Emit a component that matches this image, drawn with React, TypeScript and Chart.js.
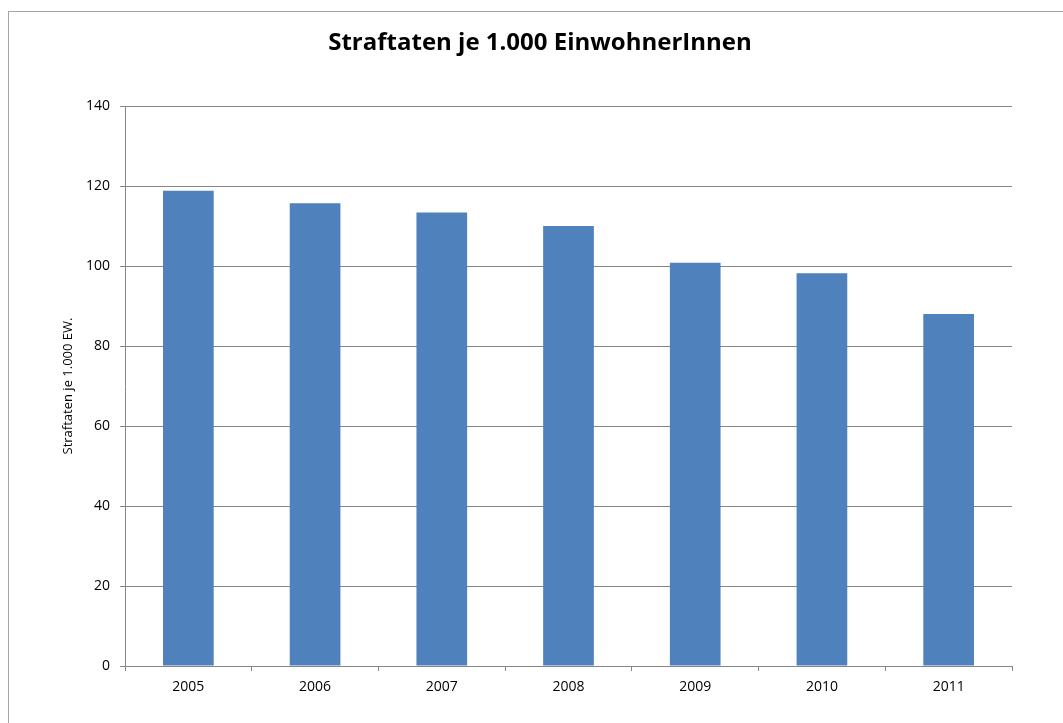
import React, { useEffect, useRef } from "react";
import { Chart, registerables } from "chart.js";

Chart.register(...registerables);

const TITLE = "Straftaten je 1.000 EinwohnerInnen";
const Y_TITLE = "Straftaten je 1.000 EW.";
const YEARS = ["2005", "2006", "2007", "2008", "2009", "2010", "2011"];
const VALUES = [118.8, 115.7, 113.4, 110.0, 100.8, 98.2, 88.0];
const Y_MIN = 0;
const Y_MAX = 140;
const Y_STEP = 20;

const FONT = "'Open Sans', 'DejaVu Sans', sans-serif";
const GRID = "#868686";

export default function App() {
  const ref = useRef<HTMLCanvasElement | null>(null);

  useEffect(() => {
    const canvas = ref.current;
    if (!canvas) return;
    const chart = new Chart(canvas, {
      type: "bar",
      data: {
        labels: YEARS,
        datasets: [
          {
            data: VALUES,
            backgroundColor: "#4f81bd",
            borderColor: "#b9cde5",
            borderWidth: 0,
            barPercentage: 0.4,
            categoryPercentage: 1,
          },
        ],
      },
      options: {
        animation: false,
        responsive: false,
        devicePixelRatio: 1,
        layout: { padding: { left: 0, right: 0, top: 0, bottom: 0 } },
        plugins: {
          legend: { display: false },
          tooltip: { enabled: false },
          title: {
            display: true,
            text: TITLE,
            color: "#000",
            font: { family: FONT, size: 24, weight: "bold", lineHeight: 1.2 },
            padding: { top: 17, bottom: 48.2 },
          },
        },
        scales: {
          x: {
            type: "category",
            grid: {
              display: true,
              drawOnChartArea: false,
              drawTicks: true,
              tickLength: 5,
              color: GRID,
              offset: true,
            },
            border: { display: true, color: GRID, width: 1 },
            ticks: {
              color: "#000",
              font: { family: FONT, size: 14 },
              padding: 8,
              maxRotation: 0,
            },
            afterFit: (s: any) => {
              s.height = 57;
            },
          },
          y: {
            type: "linear",
            position: "left",
            min: Y_MIN,
            max: Y_MAX,
            ticks: {
              stepSize: Y_STEP,
              color: "#000",
              font: { family: FONT, size: 14 },
              padding: 10,
            },
            grid: {
              color: GRID,
              tickLength: 5,
              lineWidth: 1,
            },
            border: { display: true, color: GRID, width: 1 },
            title: {
              display: true,
              text: Y_TITLE,
              color: "#000",
              font: { family: FONT, size: 13 },
              padding: { top: 51, bottom: 0 },
            },
            afterFit: (s: any) => {
              s.width = 116;
            },
          },
          y2: {
            type: "linear",
            position: "right",
            display: true,
            grid: { display: false, drawTicks: false },
            border: { display: false },
            ticks: { display: false },
            afterFit: (s: any) => {
              s.width = 59;
            },
          },
        },
      },
    });
    return () => chart.destroy();
  }, []);

  return (
    <div
      style={{
        position: "absolute",
        left: 8,
        top: 11,
        width: 1054,
        height: 711,
        borderLeft: "1px solid #a6a6a6",
        borderTop: "1px solid #a6a6a6",
        overflow: "hidden",
        background: "#fff",
      }}
    >
      <canvas ref={ref} width={1062} height={711} style={{ display: "block" }} />
    </div>
  );
}
